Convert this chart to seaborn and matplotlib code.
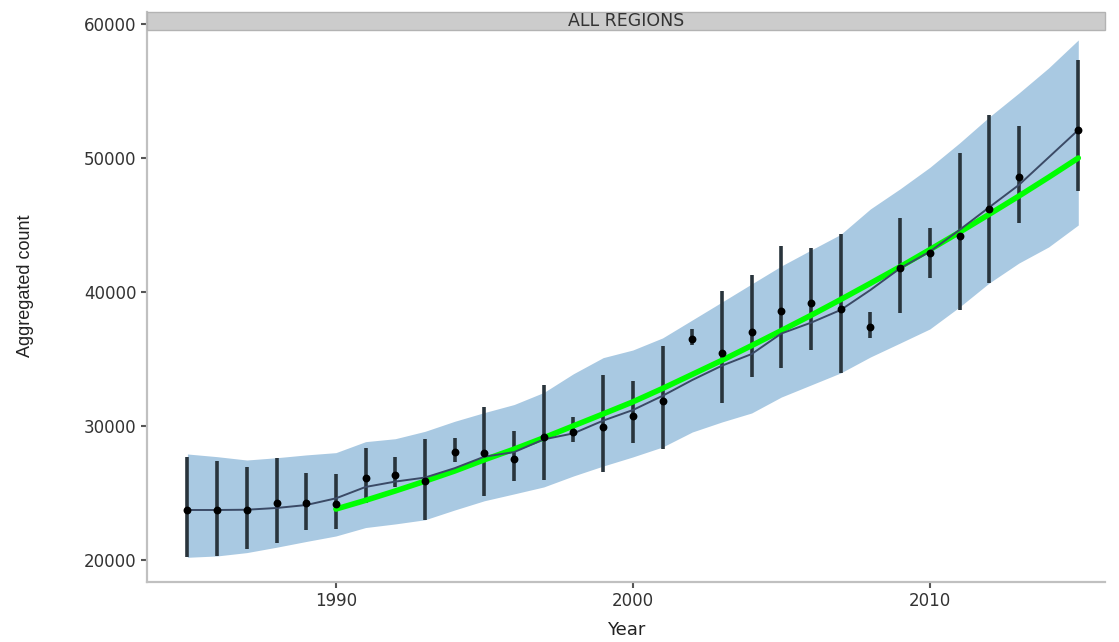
#!/usr/bin/env python

import matplotlib
matplotlib.use("Agg")
import matplotlib.pyplot as plt
from matplotlib.patches import Rectangle
import pandas as pd
import seaborn as sns


# Observed yearly counts with their error bars (no value for 2014)
YEARS = [1985, 1986, 1987, 1988, 1989, 1990, 1991, 1992, 1993, 1994,
         1995, 1996, 1997, 1998, 1999, 2000, 2001, 2002, 2003, 2004,
         2005, 2006, 2007, 2008, 2009, 2010, 2011, 2012, 2013, 2015]
COUNT = [23730, 23730, 23730, 24280, 24250, 24180, 26120, 26340, 25900, 28080,
         27960, 27540, 29150, 29580, 29950, 30750, 31890, 36470, 35470, 37040,
         38580, 39150, 38730, 37410, 41770, 42890, 44180, 46190, 48580, 52110]
LOWER = [20220, 20300, 20820, 21270, 22240, 22310, 24280, 25450, 22990, 27290,
         24780, 25920, 25970, 28830, 26540, 28760, 28260, 36040, 31740, 33630,
         34350, 35670, 33990, 36540, 38460, 41020, 38660, 40700, 45130, 47560]
UPPER = [27690, 27390, 26940, 27610, 26510, 26420, 28380, 27690, 29030, 29130,
         31440, 29650, 33060, 30700, 33810, 33380, 35970, 37220, 40100, 41270,
         43430, 43310, 44300, 38530, 45500, 44750, 50400, 53200, 52420, 57310]
# Smoothed trend through the observations
SMOOTH = [23730, 23730, 23750, 23880, 24100, 24600, 25450, 25850, 26150, 26850,
          27710, 28050, 29000, 29450, 30400, 31190, 32250, 33430, 34500, 35370,
          36900, 37710, 38660, 40150, 41770, 43010, 44630, 46320, 47990, 52090]

# Shaded interval, every year 1985-2015
BAND_YEARS = list(range(1985, 2016))
BAND_LOW = [20200, 20300, 20550, 20950, 21380, 21790, 22420, 22690, 23000, 23730,
            24420, 24930, 25450, 26270, 27010, 27690, 28430, 29550, 30300, 30970,
            32160, 33060, 33960, 35150, 36190, 37240, 38880, 40670, 42160, 43360,
            45000]
BAND_HIGH = [27910, 27710, 27460, 27630, 27840, 28010, 28830, 29050, 29600, 30350,
             31000, 31600, 32500, 33900, 35100, 35670, 36570, 37910, 39250, 40600,
             41940, 43130, 44300, 46200, 47700, 49300, 51120, 53060, 54850, 56720,
             58810]

# Fitted curve from 1990 on
FIT_YEARS = list(range(1990, 2016))
FIT = [23800, 24450, 25150, 25880, 26640, 27480, 28270, 29120, 30010, 30900,
       31800, 32800, 33850, 34900, 36000, 37120, 38260, 39440, 40650, 41880,
       43160, 44460, 45800, 47160, 48560, 50000]


def main():
    obs = pd.DataFrame({"Year": YEARS, "count": COUNT, "lo": LOWER,
                        "hi": UPPER, "smooth": SMOOTH})
    band = pd.DataFrame({"Year": BAND_YEARS, "lo": BAND_LOW, "hi": BAND_HIGH})
    fit = pd.DataFrame({"Year": FIT_YEARS, "fit": FIT})

    sns.set_style("ticks")
    plt.rcParams["font.family"] = ["DejaVu Sans"]

    fig = plt.figure(figsize=(11.19, 6.42), dpi=100)
    ax = fig.add_axes([0.1314, 0.0935, 0.8561, 0.8878])

    ax.fill_between(band["Year"], band["lo"], band["hi"],
                    color="#a9c9e2", lw=0, zorder=1)
    ax.vlines(obs["Year"], obs["lo"], obs["hi"], color="#29343c",
              lw=2.6, zorder=2)
    sns.lineplot(data=fit, x="Year", y="fit", color="#00ff00", lw=4,
                 ax=ax, zorder=3)
    sns.lineplot(data=obs, x="Year", y="smooth", color="#3b4a66", lw=1.4,
                 ax=ax, zorder=4)
    sns.scatterplot(data=obs, x="Year", y="count", color="black", s=32,
                    edgecolor="black", linewidth=0, ax=ax, zorder=5)

    ax.set_xlim(1983.64, 2015.9)
    ax.set_ylim(18358, 60896)
    ax.set_xticks([1990, 2000, 2010])
    ax.set_yticks([20000, 30000, 40000, 50000, 60000])

    for side in ("top", "right"):
        ax.spines[side].set_visible(False)
    for side in ("left", "bottom"):
        ax.spines[side].set_color("#c0c0c0")
        ax.spines[side].set_linewidth(1.6)
    ax.tick_params(colors="#555555", labelcolor="#333333", length=4,
                   width=1.5, labelsize=12)

    ax.set_xlabel("Year", fontsize=13, color="#222222")
    ax.xaxis.set_label_coords(0.5, -0.068)
    ax.set_ylabel("Aggregated count", fontsize=13, color="#222222",
                  family="Liberation Sans", labelpad=0)
    ax.yaxis.set_label_coords(-0.118, 0.52)

    # facet strip across the top
    strip = Rectangle((0, 0.9684), 1, 0.0316, transform=ax.transAxes,
                      facecolor="#cccccc", edgecolor="#b3b3b3", lw=1,
                      zorder=6, clip_on=False)
    ax.add_patch(strip)
    ax.text(0.5, 0.984, "ALL REGIONS", transform=ax.transAxes, ha="center",
            va="center", fontsize=12.5, color="#333333", zorder=7)

    fig.savefig("out.png", dpi=100)


if __name__ == '__main__':
    main()
